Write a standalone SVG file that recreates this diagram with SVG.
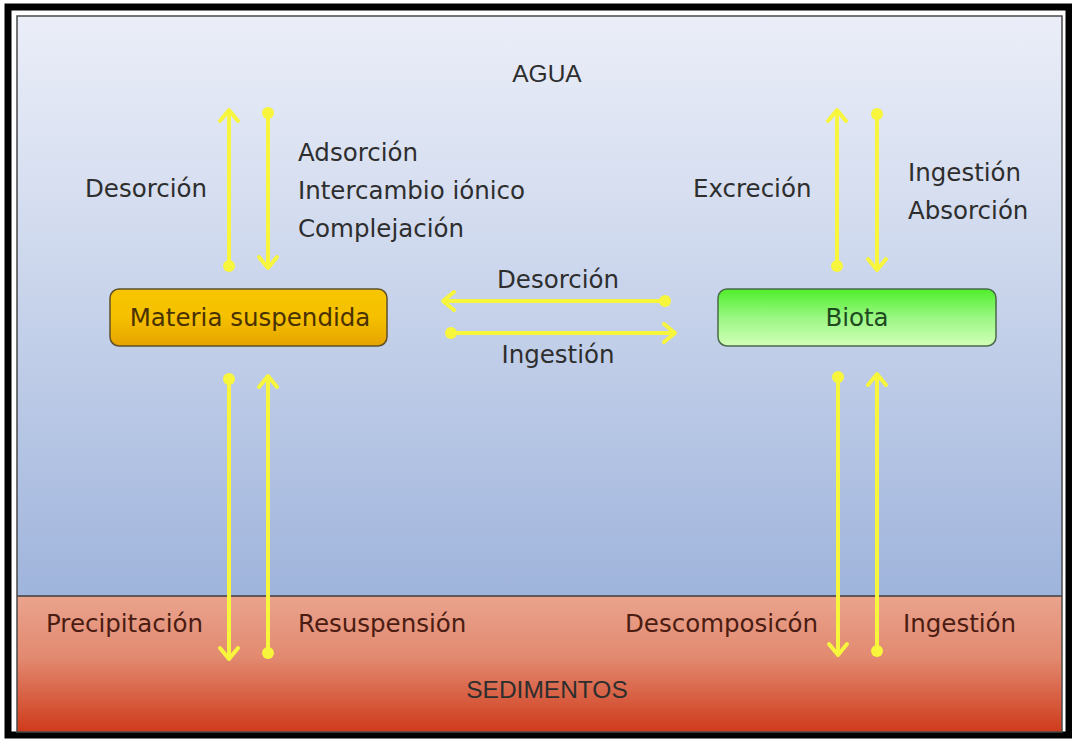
<svg xmlns="http://www.w3.org/2000/svg" width="1072" height="739" viewBox="0 0 1072 739">
  <defs>
    <linearGradient id="water" x1="0" y1="0" x2="0" y2="1">
      <stop offset="0" stop-color="#ebeef8"/>
      <stop offset="0.35" stop-color="#d3dcef"/>
      <stop offset="1" stop-color="#9fb4dc"/>
    </linearGradient>
    <linearGradient id="sed" x1="0" y1="0" x2="0" y2="1">
      <stop offset="0" stop-color="#eaa38d"/>
      <stop offset="0.45" stop-color="#e28a70"/>
      <stop offset="1" stop-color="#cf3a1b"/>
    </linearGradient>
    <linearGradient id="gold" x1="0" y1="0" x2="0" y2="1">
      <stop offset="0" stop-color="#f7c600"/>
      <stop offset="0.5" stop-color="#f5c000"/>
      <stop offset="1" stop-color="#e6a300"/>
    </linearGradient>
    <linearGradient id="green" x1="0" y1="0" x2="0" y2="1">
      <stop offset="0" stop-color="#4fee2a"/>
      <stop offset="0.5" stop-color="#9af784"/>
      <stop offset="1" stop-color="#d2ffb8"/>
    </linearGradient>
    <marker id="arr" viewBox="-14 -12 18 24" refX="0" refY="0" markerWidth="18" markerHeight="24" markerUnits="userSpaceOnUse" orient="auto">
      <path d="M-11,-9 L0,0 L-11,9" fill="none" stroke="#f7f53c" stroke-width="4" stroke-linecap="round" stroke-linejoin="round"/>
    </marker>
    <marker id="dot" viewBox="-8 -8 16 16" refX="0" refY="0" markerWidth="16" markerHeight="16" markerUnits="userSpaceOnUse" orient="auto">
      <circle r="6" fill="#f7f53c"/>
    </marker>
    <style>
      .lbl { font-family: "DejaVu Sans", Verdana, sans-serif; font-size: 24.5px; fill: #2e2e2e; }
      .sedlbl { font-family: "DejaVu Sans", Verdana, sans-serif; font-size: 24.5px; fill: #4a1c12; }
      .big { font-family: "Liberation Sans", Arial, sans-serif; font-size: 24.5px; fill: #2e2e2e; }
      .conn { fill: none; stroke: #f7f53c; stroke-width: 4; marker-start: url(#dot); marker-end: url(#arr); }
      .node { font-family: "DejaVu Sans", Verdana, sans-serif; font-size: 24.5px; }
    </style>
  </defs>

  <!-- frame -->
  <rect x="0" y="0" width="1072" height="739" fill="#ffffff"/>
  <rect x="8" y="7" width="1061" height="728" fill="none" stroke="#000" stroke-width="7"/>
  <rect x="17" y="16" width="1045" height="580" fill="url(#water)"/>
  <rect x="17" y="596" width="1045" height="136" fill="url(#sed)"/>
  <line x1="17" y1="596" x2="1062" y2="596" stroke="#3c3c3c" stroke-width="1.5"/>
  <rect x="17" y="16" width="1045" height="716" fill="none" stroke="#4a4a4a" stroke-width="1.5"/>

  <g id="agua"><text class="big" x="547" y="82" text-anchor="middle">AGUA</text></g>
  <g id="sedimentos"><text class="big" x="547" y="698" text-anchor="middle">SEDIMENTOS</text></g>

  <g id="connectors">
    <line class="conn" x1="229" y1="266" x2="229" y2="110"/>
    <line class="conn" x1="268" y1="113" x2="268" y2="268"/>
    <line class="conn" x1="837" y1="266" x2="837" y2="110"/>
    <line class="conn" x1="877" y1="114" x2="877" y2="270"/>
    <line class="conn" x1="665" y1="301" x2="443" y2="301"/>
    <line class="conn" x1="451" y1="333" x2="675" y2="333"/>
    <line class="conn" x1="229" y1="379" x2="229" y2="659"/>
    <line class="conn" x1="268" y1="653" x2="268" y2="376"/>
    <line class="conn" x1="838" y1="377" x2="838" y2="655"/>
    <line class="conn" x1="877" y1="651" x2="877" y2="374"/>
  </g>

  <g id="labels">
    <text class="lbl" x="85" y="197">Desorción</text>
    <text class="lbl" x="298" y="161">Adsorción</text>
    <text class="lbl" x="298" y="199">Intercambio iónico</text>
    <text class="lbl" x="298" y="237">Complejación</text>
    <text class="lbl" x="693" y="197">Excreción</text>
    <text class="lbl" x="908" y="181">Ingestión</text>
    <text class="lbl" x="908" y="219">Absorción</text>
    <text class="lbl" x="558" y="288" text-anchor="middle">Desorción</text>
    <text class="lbl" x="558" y="363" text-anchor="middle">Ingestión</text>
    <text class="sedlbl" x="46" y="632">Precipitación</text>
    <text class="sedlbl" x="298" y="632">Resuspensión</text>
    <text class="sedlbl" x="625" y="632">Descomposicón</text>
    <text class="sedlbl" x="903" y="632">Ingestión</text>
  </g>

  <g id="materia">
    <rect x="110" y="289" width="277" height="57" rx="9" fill="url(#gold)" stroke="#5e5028" stroke-width="1.5"/>
    <text class="node" x="250" y="326" text-anchor="middle" fill="#4a3200">Materia suspendida</text>
  </g>
  <g id="biota">
    <rect x="718" y="289" width="278" height="57" rx="9" fill="url(#green)" stroke="#4a6a4a" stroke-width="1.5"/>
    <text class="node" x="857" y="326" text-anchor="middle" fill="#1e4a1e">Biota</text>
  </g>
</svg>
